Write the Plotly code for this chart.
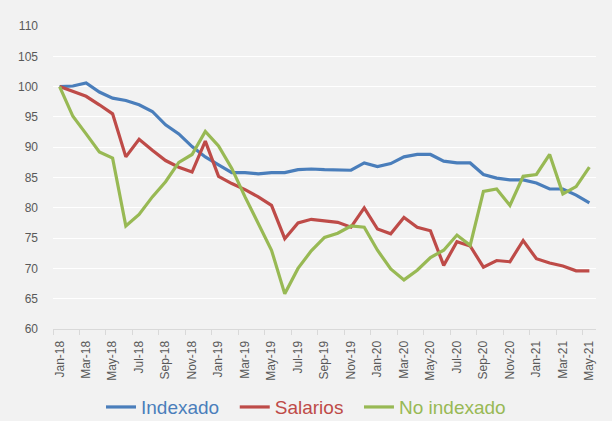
import plotly.graph_objects as go

months = ["Jan","Feb","Mar","Apr","May","Jun","Jul","Aug","Sep","Oct","Nov","Dec"]
categories = []
for yr in ["18", "19", "20", "21"]:
    for m in months:
        categories.append(f"{m}-{yr}")
categories = categories[:41]  # Jan-18 .. May-21

indexado = [100.0, 100.1, 100.6, 99.1, 98.1, 97.7, 97.0, 95.9, 93.7, 92.2,
            90.1, 88.4, 87.1, 85.8, 85.8, 85.6, 85.8, 85.8, 86.3, 86.4,
            86.3, 86.3, 86.2, 87.4, 86.8, 87.3, 88.4, 88.8, 88.8, 87.7,
            87.4, 87.4, 85.5, 84.9, 84.6, 84.6, 84.1, 83.1, 83.1, 82.1, 80.8]
salarios = [100.0, 99.2, 98.4, 97.0, 95.5, 88.4, 91.3, 89.5, 87.8, 86.7,
            85.9, 91.0, 85.2, 84.0, 83.0, 81.8, 80.4, 74.9, 77.5, 78.1,
            77.8, 77.6, 76.8, 80.0, 76.5, 75.7, 78.4, 76.8, 76.2, 70.5,
            74.4, 73.7, 70.2, 71.3, 71.1, 74.6, 71.6, 70.9, 70.4, 69.6, 69.6]
no_indexado = [100.0, 95.1, 92.2, 89.2, 88.2, 77.0, 78.9, 81.8, 84.3, 87.5,
               88.8, 92.6, 90.2, 86.5, 81.8, 77.4, 73.0, 65.8, 70.0, 72.9,
               75.1, 75.8, 77.0, 76.8, 73.0, 69.9, 68.1, 69.7, 71.8, 73.0,
               75.5, 73.8, 82.7, 83.1, 80.4, 85.2, 85.5, 88.8, 82.3, 83.5, 86.7]

series = [("Indexado", indexado, "#4A7EBB", "&nbsp;&nbsp;"),
          ("Salarios", salarios, "#BE4B48", "&nbsp;&nbsp;"),
          ("No indexado", no_indexado, "#98B954", "")]

x_idx = list(range(len(categories)))

fig = go.Figure()
for name, vals, color, pad in series:
    fig.add_trace(go.Scatter(
        x=x_idx, y=vals, mode="lines",
        name=f"<span style='color:{color}'>{name}</span>{pad}",
        line=dict(color=color, width=3.2),
    ))

tick_vals = x_idx[::2]
tick_text = categories[::2]
boundaries = [i - 0.5 for i in x_idx[::2]]

fig.update_layout(
    width=612, height=421,
    margin=dict(l=53, r=16, t=26, b=92, autoexpand=False),
    paper_bgcolor="#F2F2F2",
    plot_bgcolor="#F2F2F2",
    font=dict(family="Liberation Sans, Arial, sans-serif", color="#595959", size=12),
    showlegend=True,
    legend=dict(
        orientation="h", xref="container", x=0.5, xanchor="center",
        yref="container", y=0.033, yanchor="middle",
        font=dict(size=19), bgcolor="rgba(0,0,0,0)",
        itemwidth=30,
    ),
    xaxis=dict(
        range=[-0.5, len(categories) - 0.5],
        tickmode="array", tickvals=tick_vals, ticktext=tick_text,
        tickangle=-90, ticks="", showgrid=False,
        showline=True, linecolor="#D9D9D9", linewidth=1,
        tickfont=dict(size=12, color="#595959"),
        ticklabelstandoff=6, automargin=False,
        minor=dict(tickvals=boundaries, ticks="outside", ticklen=5,
                   tickcolor="#D9D9D9", tickwidth=1, showgrid=False),
        zeroline=False,
    ),
    yaxis=dict(
        range=[60, 110], tickmode="linear", tick0=60, dtick=5,
        showgrid=True, gridcolor="#FFFFFF", gridwidth=1.3,
        zeroline=False, showline=False, ticks="",
        tickfont=dict(size=12, color="#595959"),
        ticklabelstandoff=14, automargin=False,
    ),
)

fig.write_html(
    "out.html",
    config={"displayModeBar": False},
    post_script="document.body.style.margin='0';document.body.style.background='#F2F2F2';",
)
